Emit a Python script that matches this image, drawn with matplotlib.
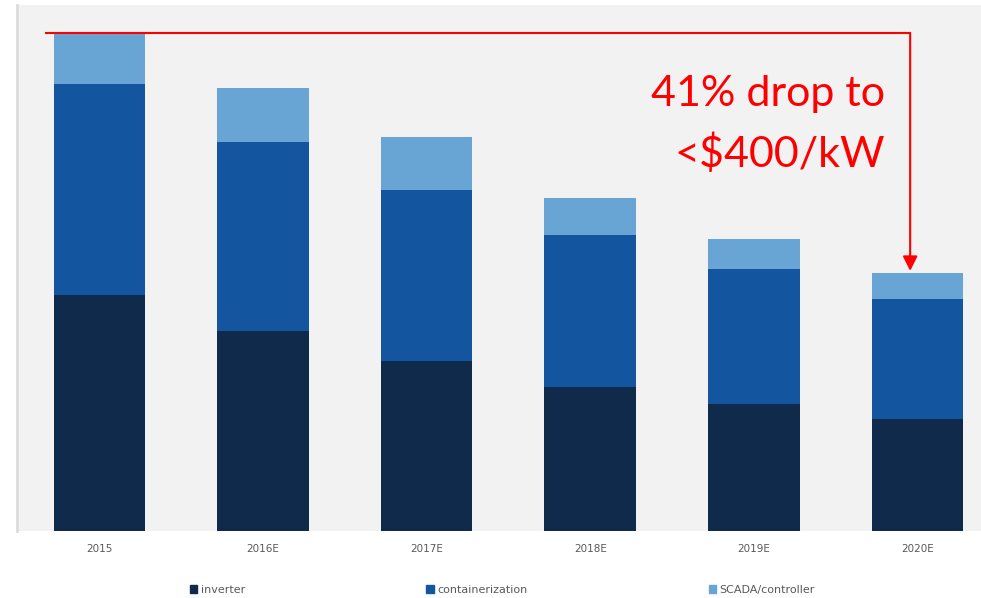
import numpy as np
import matplotlib.pyplot as plt
from matplotlib.patches import Patch

# storage system balance-of-system cost, $/kW
years = ['2015', '2016E', '2017E', '2018E', '2019E', '2020E']
inverter = [366, 310, 264, 223, 197, 174]
containerization = [327, 293, 265, 236, 209, 186]
scada = [79, 84, 82, 57, 47, 40]

series_names = ['inverter', 'containerization', 'SCADA/controller']
colors = ['#0f2a4a', '#1455a0', '#68a5d5']

fig = plt.figure(figsize=(9.81, 5.98), dpi=100)
ax = fig.add_axes([0.0173, 0.112, 0.9827, 0.8796])
ax.set_facecolor('#f2f2f2')

x = np.arange(len(years))
width = 0.56
inv = np.array(inverter)
con = np.array(containerization)
sc = np.array(scada)

ax.bar(x, inv, width, color=colors[0])
ax.bar(x, con, width, bottom=inv, color=colors[1])
ax.bar(x, sc, width, bottom=inv + con, color=colors[2])

totals = inv + con + sc

ax.set_xlim(-0.504, 5.388)
ax.set_ylim(0, 815)
ax.set_yticks([])
ax.set_xticks(x)
ax.set_xticklabels(years, fontsize=7.5, color='#595959')
ax.tick_params(axis='x', length=0, pad=9)
for s in ['top', 'right', 'bottom']:
    ax.spines[s].set_visible(False)
ax.spines['left'].set_color('#dcdcdc')
ax.spines['left'].set_linewidth(2)

# drop annotation: line across from 2015 total, arrow down to 2020E total
x_end = 4.955
ax.plot([-0.333, x_end], [totals[0], totals[0]], color='red', lw=1.5,
        solid_capstyle='butt', clip_on=False)
ax.annotate('', xy=(x_end, totals[-1] + 3), xytext=(x_end, totals[0]),
            arrowprops=dict(arrowstyle='-|>', color='red', lw=1.5,
                            mutation_scale=22, shrinkA=0, shrinkB=0))
ax.text(4.8, 630, '41% drop to\n<$400/kW', color='red', fontsize=31,
        family='Lato', ha='right', va='center', linespacing=1.62)

handles = [Patch(color=c) for c in colors]
fig.legend(handles, series_names, loc='center', bbox_to_anchor=(0.512, 0.013),
           ncol=3, frameon=False, fontsize=8, handlelength=0.7,
           handleheight=0.7, handletextpad=0.3, columnspacing=16.3,
           labelcolor='#595959')

fig.savefig('out.png', dpi=100, facecolor='white')
